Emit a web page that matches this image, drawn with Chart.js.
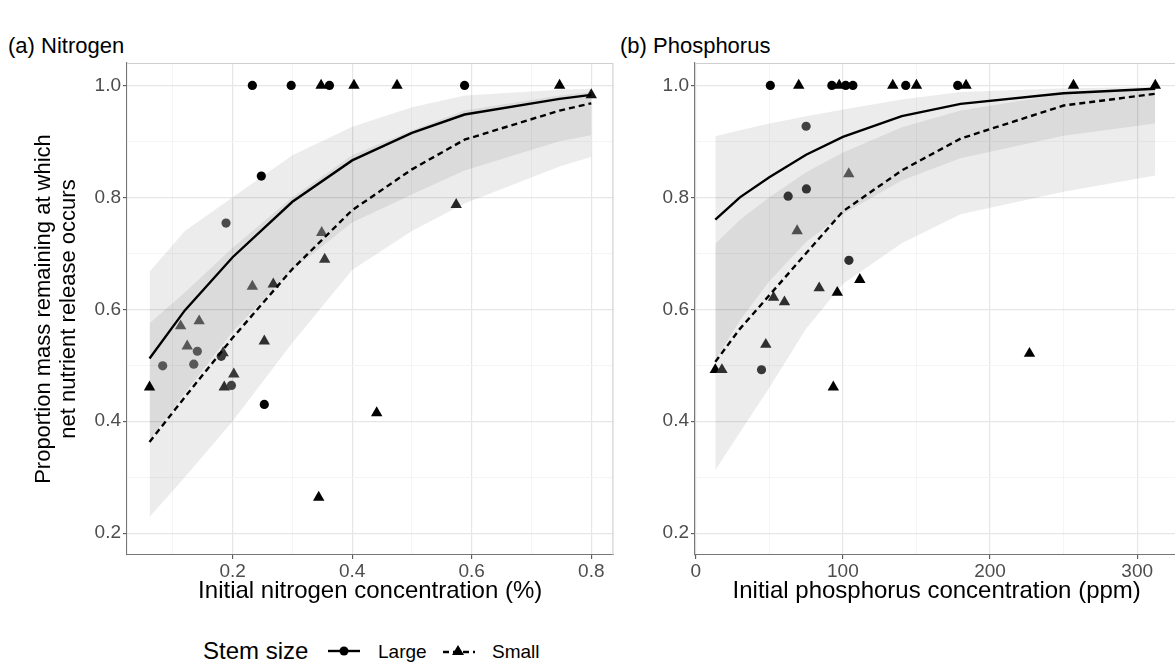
<!DOCTYPE html>
<html>
<head>
<meta charset="utf-8">
<script src="https://cdn.jsdelivr.net/npm/chart.js@4.4.1/dist/chart.umd.min.js"></script>
<style>
html,body{margin:0;padding:0;background:#fff;overflow:hidden}
body{width:1175px;height:665px;position:relative;font-family:"Liberation Sans",Arial,sans-serif;color:#000}
canvas{position:absolute;top:0}
#cN{left:0}
#cP{left:620px}
.tag{position:absolute;top:34px;font-size:22px;line-height:24px;white-space:nowrap}
.lg{position:absolute;white-space:nowrap;line-height:24px}
svg{position:absolute}
</style>
</head>
<body>
<div class="tag" style="left:8px">(a) Nitrogen</div>
<div class="tag" style="left:620px">(b) Phosphorus</div>
<canvas id="cN" width="620" height="620"></canvas>
<canvas id="cP" width="565" height="620"></canvas>

<div class="lg" style="left:203px;top:639px;font-size:24px">Stem size</div>
<svg style="left:326px;top:643px" width="36" height="16">
  <line x1="2" y1="8" x2="34" y2="8" stroke="#000" stroke-width="2.4"/>
  <circle cx="18" cy="8" r="4.5" fill="#000"/>
</svg>
<div class="lg" style="left:378px;top:640px;font-size:19px">Large</div>
<svg style="left:441px;top:642px" width="36" height="18">
  <line x1="2" y1="10" x2="34" y2="10" stroke="#000" stroke-width="2.4" stroke-dasharray="6 4"/>
  <polygon points="17,3 23,13 11,13" fill="#000"/>
</svg>
<div class="lg" style="left:492px;top:640px;font-size:19px">Small</div>

<script>
// (a) nitrogen - observed points
const nLargeX = [0.233, 0.298, 0.362, 0.588, 0.248, 0.189, 0.083, 0.135, 0.141, 0.181, 0.198, 0.253];
const nLargeY = [1.0, 1.0, 1.0, 1.0, 0.838, 0.754, 0.499, 0.502, 0.525, 0.516, 0.464, 0.430];
const nLargeShade = [0, 0, 0, 0, 0, 0.8, 1, 1, 1, 0.6, 0.7, 0];

const nSmallX = [0.348, 0.403, 0.475, 0.747, 0.800, 0.349, 0.354, 0.233, 0.268, 0.113, 0.144, 0.124, 0.184, 0.253, 0.202, 0.186, 0.061, 0.441, 0.344, 0.574];
const nSmallY = [1.0, 1.0, 1.0, 1.0, 0.983, 0.737, 0.689, 0.641, 0.645, 0.570, 0.579, 0.534, 0.522, 0.543, 0.484, 0.461, 0.461, 0.415, 0.264, 0.787];
const nSmallShade = [0, 0, 0, 0, 0.2, 1, 0.6, 1, 0.6, 1, 1, 1, 0.6, 0.5, 0.6, 0.5, 0, 0, 0, 0.4];

// (a) fitted curves + intervals
const nFitX = [0.061, 0.12, 0.2, 0.3, 0.4, 0.5, 0.588, 0.747, 0.8];
const nLargeFit = [0.512, 0.598, 0.693, 0.792, 0.866, 0.915, 0.948, 0.976, 0.983];
const nLargeHi  = [0.667, 0.74, 0.80, 0.875, 0.926, 0.961, 0.982, 0.992, 0.994];
const nLargeLo  = [0.366, 0.45, 0.56, 0.67, 0.755, 0.805, 0.848, 0.90, 0.911];
const nSmallFit = [0.363, 0.443, 0.549, 0.672, 0.777, 0.85, 0.903, 0.955, 0.968];
const nSmallHi  = [0.575, 0.63, 0.71, 0.80, 0.875, 0.92, 0.955, 0.982, 0.988];
const nSmallLo  = [0.229, 0.30, 0.40, 0.54, 0.67, 0.74, 0.789, 0.855, 0.872];

// (b) phosphorus - observed points
const pLargeX = [50.7, 92.5, 101.9, 106.8, 142.7, 178, 75, 62.8, 75.2, 104.1, 44.7];
const pLargeY = [1.0, 1.0, 1.0, 1.0, 1.0, 1.0, 0.927, 0.802, 0.815, 0.6875, 0.492];
const pLargeShade = [0, 0, 0, 0, 0, 0, 0.7, 0.6, 0.6, 0.5, 0.6];

const pSmallX = [70, 97.5, 133.9, 150, 183.7, 256.7, 312.3, 104, 68.9, 111.5, 83.9, 96.2, 52.9, 60.3, 47.6, 13.3, 17.8, 93.5, 226.8];
const pSmallY = [1.0, 1.0, 1.0, 1.0, 1.0, 1.0, 1.0, 0.842, 0.740, 0.653, 0.638, 0.630, 0.621, 0.613, 0.537, 0.492, 0.492, 0.461, 0.521];
const pSmallShade = [0, 0, 0, 0, 0, 0, 0, 1, 0.9, 0, 0.5, 0, 0.5, 0.5, 0.5, 0, 0.5, 0, 0];

// (b) fitted curves + intervals
const pFitX = [13.3, 30, 50, 75, 100, 140, 180, 250, 312.3];
const pLargeFit = [0.760, 0.80, 0.836, 0.876, 0.908, 0.945, 0.967, 0.986, 0.994];
const pLargeHi  = [0.909, 0.92, 0.932, 0.945, 0.957, 0.975, 0.988, 0.995, 0.997];
const pLargeLo  = [0.509, 0.58, 0.65, 0.72, 0.77, 0.83, 0.87, 0.91, 0.932];
const pSmallFit = [0.506, 0.565, 0.625, 0.70, 0.775, 0.848, 0.905, 0.964, 0.985];
const pSmallHi  = [0.717, 0.76, 0.80, 0.845, 0.88, 0.925, 0.955, 0.985, 0.995];
const pSmallLo  = [0.3125, 0.38, 0.46, 0.565, 0.645, 0.718, 0.77, 0.81, 0.839];

// tick labels
const yTicks = [0.2, 0.4, 0.6, 0.8, 1.0];
const nTicks = [0.2, 0.4, 0.6, 0.8];
const pTicks = [0, 100, 200, 300];

const FONT = '"Liberation Sans", Arial, sans-serif';
const TICK_COL = '#4d4d4d';

const pts = (xs, ys) => xs.map((x, i) => ({x: x, y: ys[i]}));
const grey = s => { const v = Math.round(s * 0x66); return 'rgb(' + v + ',' + v + ',' + v + ')'; };
const isIn = (list, v) => list.some(t => Math.abs(t - v) < 1e-6);

function gridFor(list){
  return {
    color: c => (c.tick && isIn(list, c.tick.value)) ? '#e6e6e6' : '#f2f2f2',
    lineWidth: c => (c.tick && isIn(list, c.tick.value)) ? 1.2 : 0.8,
    tickColor: c => (c.tick && isIn(list, c.tick.value)) ? '#555' : 'rgba(0,0,0,0)',
    tickLength: 4,
    tickWidth: 1.1
  };
}

function xAxis(min, max, step, list, fmt, title){
  return {
    type: 'linear', min: min, max: max,
    ticks: {stepSize: step, includeBounds: false, autoSkip: false, maxRotation: 0, padding: 1,
      color: TICK_COL, font: {size: 19, family: FONT},
      callback: v => isIn(list, v) ? fmt(v) : ''},
    grid: gridFor(list),
    border: {color: '#777', width: 1.1},
    title: {display: true, text: title, color: '#000', font: {size: 24, family: FONT, lineHeight: 1.1}, padding: {top: 0, bottom: 15}},
    afterFit: s => { s.height = 65; }
  };
}

function yAxis(width, title){
  return {
    type: 'linear', min: 0.161, max: 1.04,
    ticks: {stepSize: 0.1, includeBounds: false, autoSkip: false, padding: 2,
      color: TICK_COL, font: {size: 19, family: FONT},
      callback: v => isIn(yTicks, v) ? v.toFixed(1) : ''},
    grid: gridFor(yTicks),
    border: {color: '#777', width: 1.1},
    title: title ? {display: true, text: title, color: '#000', font: {size: 22, family: FONT, lineHeight: 1.12}, padding: {top: 32}} : {display: false},
    afterFit: s => { s.width = width; }
  };
}

function band(xs, ys, fill){
  return {data: pts(xs, ys), showLine: true, borderWidth: 0, pointRadius: 0, fill: fill,
    backgroundColor: 'rgba(0,0,0,0.075)', borderColor: 'rgba(0,0,0,0)'};
}
function curve(xs, ys, dash){
  return {data: pts(xs, ys), showLine: true, borderWidth: 2.4, borderColor: '#000', borderDash: dash,
    pointRadius: 0, fill: false};
}
function dots(xs, ys, shade, style, r){
  const cols = shade.map(grey);
  return {data: pts(xs, ys), showLine: false, pointStyle: style, pointRadius: r,
    pointBackgroundColor: cols, pointBorderColor: cols, pointBorderWidth: 0};
}

const frame = {
  id: 'frame',
  beforeDatasetsDraw(chart){
    const {ctx, chartArea: a} = chart;
    ctx.save();
    ctx.strokeStyle = '#cfcfcf';
    ctx.lineWidth = 1.1;
    ctx.beginPath();
    ctx.moveTo(a.left, a.top + 0.5);
    ctx.lineTo(a.right - 0.5, a.top + 0.5);
    ctx.lineTo(a.right - 0.5, a.bottom);
    ctx.stroke();
    ctx.restore();
  }
};

function panel(id, d, xs, yW, yTitle, padRight){
  return new Chart(document.getElementById(id), {
    type: 'line',
    data: {datasets: [
      band(d.fx, d.lLo, false),
      band(d.fx, d.lHi, '-1'),
      band(d.fx, d.sLo, false),
      band(d.fx, d.sHi, '-1'),
      curve(d.fx, d.lFit, []),
      curve(d.fx, d.sFit, [6, 4]),
      dots(d.lx, d.ly, d.ls, 'circle', 4.6),
      dots(d.sx, d.sy, d.ss, 'triangle', 6.6)
    ]},
    options: {
      responsive: false, animation: false,
      layout: {padding: {top: 63, right: padRight, bottom: 0, left: 0}},
      elements: {line: {tension: 0}},
      plugins: {legend: {display: false}, tooltip: {enabled: false}, title: {display: false}},
      scales: {x: xs, y: yAxis(yW, yTitle)}
    },
    plugins: [frame]
  });
}

panel('cN', {
  fx: nFitX, lFit: nLargeFit, lHi: nLargeHi, lLo: nLargeLo, sFit: nSmallFit, sHi: nSmallHi, sLo: nSmallLo,
  lx: nLargeX, ly: nLargeY, ls: nLargeShade, sx: nSmallX, sy: nSmallY, ss: nSmallShade
}, xAxis(0.0233, 0.837, 0.1, nTicks, v => v.toFixed(1), 'Initial nitrogen concentration (%)'),
  127, ['Proportion mass remaining at which', 'net nutrient release occurs'], 5);

panel('cP', {
  fx: pFitX, lFit: pLargeFit, lHi: pLargeHi, lLo: pLargeLo, sFit: pSmallFit, sHi: pSmallHi, sLo: pSmallLo,
  lx: pLargeX, ly: pLargeY, ls: pLargeShade, sx: pSmallX, sy: pSmallY, ss: pSmallShade
}, xAxis(-0.5, 328, 50, pTicks, v => String(v), 'Initial phosphorus concentration (ppm)'),
  75, null, 0);
</script>
</body>
</html>
